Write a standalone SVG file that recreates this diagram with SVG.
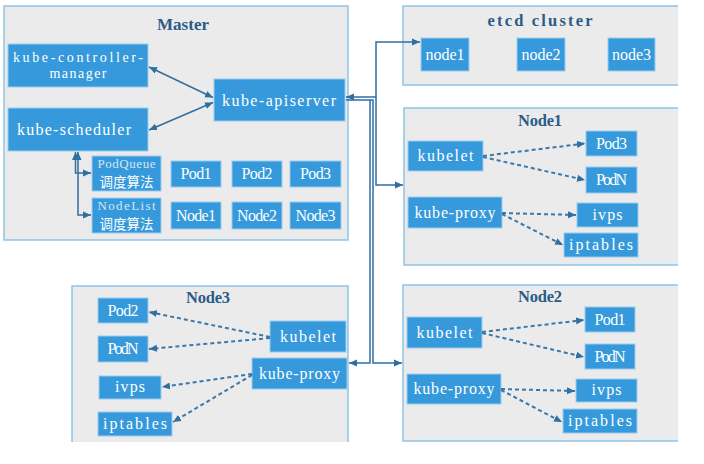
<svg xmlns="http://www.w3.org/2000/svg" width="704" height="464" viewBox="0 0 704 464">
<style>
.bg{fill:#ebebeb}
.bd{fill:none;stroke:#8fc3e8;stroke-width:1.5}
.b{fill:#3599db;stroke:#9ccdf0;stroke-width:1}
.t{font-family:"Liberation Serif","DejaVu Serif",serif;font-size:16px;fill:#ffffff;text-anchor:middle}
.m{font-size:14px}
.s{font-size:13px;fill:#d6e6f4}
.c{font-family:"Noto Sans CJK SC","Noto Sans CJK JP",sans-serif;font-size:13.5px;fill:#ffffff;text-anchor:middle}
.h{font-family:"Liberation Serif","DejaVu Serif",serif;font-size:16.5px;font-weight:bold;fill:#2b5c88;text-anchor:middle}
.ln{fill:none;stroke:#2f6fa2;stroke-width:1.5}
.dl{fill:none;stroke:#3a77aa;stroke-width:2;stroke-dasharray:4 3}
</style>
<defs>
<marker id="ah" markerUnits="userSpaceOnUse" markerWidth="9" markerHeight="8" refX="8" refY="4" orient="auto-start-reverse" viewBox="0 0 9 8">
<path d="M0,0.5 L8,4 L0,7.5 z" fill="#2f6fa2"/>
</marker>
</defs>

<g id="master">
<rect class="bg" x="4" y="6" width="344" height="234"/>
<rect class="bd" x="4" y="6" width="344" height="234"/>
<text class="h" x="183" y="30" textLength="52" lengthAdjust="spacingAndGlyphs">Master</text>
</g>
<g id="etcd">
<rect class="bg" x="403" y="6" width="275" height="79"/>
<path class="bd" d="M678,6 H403 V85 H678"/>
<text class="h" x="540" y="26" textLength="105" lengthAdjust="spacing">etcd cluster</text>
</g>
<g id="node1">
<rect class="bg" x="404" y="108" width="274" height="157"/>
<path class="bd" d="M678,108 H404 V265 H678"/>
<text class="h" x="540" y="126" textLength="44" lengthAdjust="spacing">Node1</text>
</g>
<g id="node2">
<rect class="bg" x="403" y="285" width="275" height="156"/>
<path class="bd" d="M678,285 H403 V441 H678"/>
<text class="h" x="540" y="302" textLength="44" lengthAdjust="spacing">Node2</text>
</g>
<g id="node3">
<rect class="bg" x="72" y="286" width="276" height="156"/>
<path class="bd" d="M72,442 V286 H348 V442"/>
<text class="h" x="208" y="303" textLength="44" lengthAdjust="spacing">Node3</text>
</g>

<g id="kube-controller-manager">
<rect class="b" x="8" y="44" width="140" height="43"/>
<text class="t m" x="78" y="62" textLength="130" lengthAdjust="spacing">kube-controller-</text>
<text class="t m" x="78" y="78" textLength="57" lengthAdjust="spacing">manager</text>
</g>
<g id="kube-scheduler">
<rect class="b" x="8" y="108" width="140" height="43"/>
<text class="t" x="74" y="135" textLength="114" lengthAdjust="spacing">kube-scheduler</text>
</g>
<g id="kube-apiserver">
<rect class="b" x="214" y="79" width="131" height="42"/>
<text class="t" x="279" y="105.5" textLength="114" lengthAdjust="spacing">kube-apiserver</text>
</g>
<g id="podqueue">
<rect class="b" x="92" y="156" width="69" height="35"/>
<text class="t s" x="126.5" y="168" textLength="58" lengthAdjust="spacing">PodQueue</text>
<text class="c" x="126.5" y="187">调度算法</text>
</g>
<g id="nodelist">
<rect class="b" x="92" y="198" width="69" height="35"/>
<text class="t s" x="126.5" y="210" textLength="58" lengthAdjust="spacing">NodeList</text>
<text class="c" x="126.5" y="229">调度算法</text>
</g>
<g id="m-pod1"><rect class="b" x="171" y="161" width="50" height="26"/><text class="t" x="196" y="179" textLength="31" lengthAdjust="spacing">Pod1</text></g>
<g id="m-pod2"><rect class="b" x="232" y="161" width="50" height="26"/><text class="t" x="257" y="179" textLength="31" lengthAdjust="spacing">Pod2</text></g>
<g id="m-pod3"><rect class="b" x="290" y="161" width="51" height="26"/><text class="t" x="315.5" y="179" textLength="31" lengthAdjust="spacing">Pod3</text></g>
<g id="m-node1"><rect class="b" x="171" y="202" width="50" height="27"/><text class="t" x="196" y="220.5" textLength="40" lengthAdjust="spacing">Node1</text></g>
<g id="m-node2"><rect class="b" x="232" y="202" width="50" height="27"/><text class="t" x="257" y="220.5" textLength="40" lengthAdjust="spacing">Node2</text></g>
<g id="m-node3"><rect class="b" x="290" y="202" width="51" height="27"/><text class="t" x="315.5" y="220.5" textLength="40" lengthAdjust="spacing">Node3</text></g>

<g id="etcd-node1"><rect class="b" x="421" y="38" width="48" height="33"/><text class="t" x="445" y="59.5" textLength="39" lengthAdjust="spacing">node1</text></g>
<g id="etcd-node2"><rect class="b" x="517" y="38" width="48" height="33"/><text class="t" x="541" y="59.5" textLength="39" lengthAdjust="spacing">node2</text></g>
<g id="etcd-node3"><rect class="b" x="608" y="38" width="47" height="33"/><text class="t" x="631.5" y="59.5" textLength="39" lengthAdjust="spacing">node3</text></g>

<g id="n1-kubelet"><rect class="b" x="408" y="141" width="75" height="30"/><text class="t" x="445.5" y="161" textLength="56" lengthAdjust="spacing">kubelet</text></g>
<g id="n1-pod3"><rect class="b" x="586" y="131" width="51" height="25"/><text class="t" x="611.5" y="148.5" textLength="31" lengthAdjust="spacing">Pod3</text></g>
<g id="n1-podn"><rect class="b" x="586" y="167" width="51" height="26"/><text class="t" x="611.5" y="185" textLength="31" lengthAdjust="spacing">PodN</text></g>
<g id="n1-kube-proxy"><rect class="b" x="408" y="197" width="94" height="31"/><text class="t" x="455" y="217.5" textLength="81" lengthAdjust="spacing">kube-proxy</text></g>
<g id="n1-ivps"><rect class="b" x="577" y="203" width="61" height="24"/><text class="t" x="607.5" y="219.5" textLength="30" lengthAdjust="spacing">ivps</text></g>
<g id="n1-iptables"><rect class="b" x="564" y="233" width="74" height="24"/><text class="t" x="601" y="250" textLength="64" lengthAdjust="spacing">iptables</text></g>

<g id="n2-kubelet"><rect class="b" x="407" y="317" width="75" height="31"/><text class="t" x="444.5" y="337.5" textLength="56" lengthAdjust="spacing">kubelet</text></g>
<g id="n2-pod1"><rect class="b" x="585" y="307" width="50" height="25"/><text class="t" x="610" y="324.5" textLength="31" lengthAdjust="spacing">Pod1</text></g>
<g id="n2-podn"><rect class="b" x="585" y="344" width="50" height="25"/><text class="t" x="610" y="361.5" textLength="31" lengthAdjust="spacing">PodN</text></g>
<g id="n2-kube-proxy"><rect class="b" x="407" y="374" width="94" height="30"/><text class="t" x="454" y="394" textLength="81" lengthAdjust="spacing">kube-proxy</text></g>
<g id="n2-ivps"><rect class="b" x="576" y="379" width="61" height="23"/><text class="t" x="606.5" y="395" textLength="30" lengthAdjust="spacing">ivps</text></g>
<g id="n2-iptables"><rect class="b" x="563" y="409" width="74" height="24"/><text class="t" x="600" y="426" textLength="64" lengthAdjust="spacing">iptables</text></g>

<g id="n3-pod2"><rect class="b" x="98" y="298" width="50" height="25"/><text class="t" x="123" y="315.5" textLength="31" lengthAdjust="spacing">Pod2</text></g>
<g id="n3-podn"><rect class="b" x="98" y="336" width="50" height="26"/><text class="t" x="123" y="354" textLength="31" lengthAdjust="spacing">PodN</text></g>
<g id="n3-ivps"><rect class="b" x="99" y="376" width="62" height="23"/><text class="t" x="130" y="392" textLength="30" lengthAdjust="spacing">ivps</text></g>
<g id="n3-iptables"><rect class="b" x="98" y="412" width="74" height="24"/><text class="t" x="135" y="429" textLength="64" lengthAdjust="spacing">iptables</text></g>
<g id="n3-kubelet"><rect class="b" x="270" y="321" width="76" height="31"/><text class="t" x="308" y="341.5" textLength="56" lengthAdjust="spacing">kubelet</text></g>
<g id="n3-kube-proxy"><rect class="b" x="252" y="358" width="95" height="31"/><text class="t" x="299.5" y="378.5" textLength="81" lengthAdjust="spacing">kube-proxy</text></g>

<g id="connectors">
<line class="ln" x1="149" y1="67" x2="213" y2="97.5" marker-start="url(#ah)" marker-end="url(#ah)"/>
<line class="ln" x1="149" y1="130" x2="213" y2="102.5" marker-start="url(#ah)" marker-end="url(#ah)"/>
<path class="ln" d="M75.5,152 V173 H91" marker-start="url(#ah)" marker-end="url(#ah)"/>
<path class="ln" d="M78,152 V215 H91" marker-start="url(#ah)" marker-end="url(#ah)"/>
<path class="ln" d="M346,97 H376 V42 H420" marker-start="url(#ah)" marker-end="url(#ah)"/>
<path class="ln" d="M376,97 V185 H403" marker-end="url(#ah)"/>
<path class="ln" d="M346,100 H373 V363 H402" marker-end="url(#ah)"/>
<path class="ln" d="M370,100 V363 H349" marker-end="url(#ah)"/>
<line class="dl" x1="483" y1="156" x2="585" y2="143.5" marker-end="url(#ah)"/>
<line class="dl" x1="483" y1="157" x2="585" y2="180" marker-end="url(#ah)"/>
<line class="dl" x1="502" y1="213" x2="576" y2="215" marker-end="url(#ah)"/>
<line class="dl" x1="502" y1="214" x2="563" y2="245" marker-end="url(#ah)"/>
<line class="dl" x1="482" y1="332" x2="584" y2="320" marker-end="url(#ah)"/>
<line class="dl" x1="482" y1="333" x2="584" y2="357" marker-end="url(#ah)"/>
<line class="dl" x1="501" y1="389" x2="575" y2="391" marker-end="url(#ah)"/>
<line class="dl" x1="501" y1="390" x2="562" y2="422" marker-end="url(#ah)"/>
<line class="dl" x1="270" y1="337" x2="149" y2="312" marker-end="url(#ah)"/>
<line class="dl" x1="270" y1="338" x2="149" y2="349" marker-end="url(#ah)"/>
<line class="dl" x1="252" y1="374" x2="162" y2="387" marker-end="url(#ah)"/>
<line class="dl" x1="252" y1="375" x2="173" y2="422" marker-end="url(#ah)"/>
</g>
</svg>
